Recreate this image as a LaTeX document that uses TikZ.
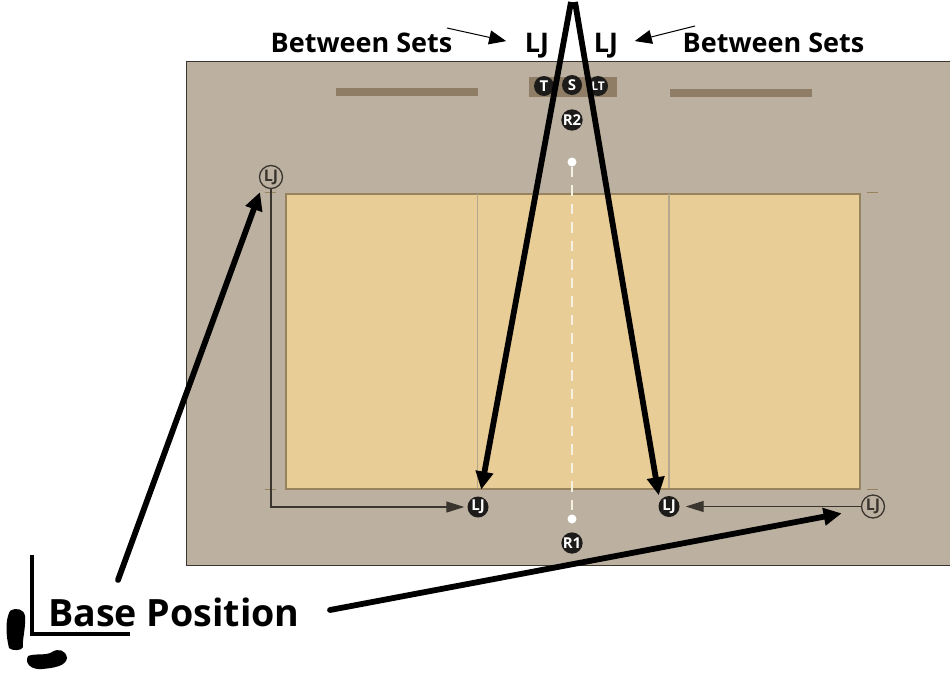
\documentclass[tikz,border=0pt]{standalone}
\usepackage{fontspec}
\setmainfont{Open Sans}
\usepackage{tikz}
\usetikzlibrary{arrows.meta, positioning, calc}
\definecolor{floorgray}{HTML}{BCB1A0}
\definecolor{courtsand}{HTML}{E8CD96}
\definecolor{courtedge}{HTML}{98835F}
\definecolor{netline}{HTML}{B5A68C}
\definecolor{benchbrown}{HTML}{8F7D66}
\definecolor{playerblack}{HTML}{1E1C1A}
\definecolor{ringdark}{HTML}{3A352E}
\definecolor{dashpale}{HTML}{F6F0E2}

\begin{document}
\begin{tikzpicture}[
   x=1pt, y=-1pt,
   font=\bfseries,
   title/.style={font=\fontsize{27}{29}\selectfont\bfseries, inner sep=0pt, anchor=base},
   player/.style={circle, fill=playerblack, text=white, minimum size=20pt, inner sep=0pt,
                  font=\fontsize{15}{15}\selectfont\bfseries},
   base/.style={circle, draw=ringdark, line width=1.3pt, fill=floorgray,
                text=ringdark, minimum size=23pt, inner sep=0pt,
                font=\fontsize{16}{16}\selectfont\bfseries},
   thin arr/.style={-{Triangle[length=18pt, width=11pt]}, line width=1.2pt, ringdark},
   call arr/.style={-{Triangle[length=17pt, width=14pt]}, line width=1pt, black},
   big arr/.style={-{Triangle[length=18pt, width=17pt]}, line width=5.8pt, black},
   tick/.style={line width=0.7pt, courtedge}]
 \useasboundingbox (0,0) rectangle (950,672);
 \node[draw=ringdark, line width=1pt, fill=floorgray, minimum width=766pt, minimum height=504pt,
       inner sep=0pt, outer sep=0pt, anchor=north west] (floor) at (186,61) {};
 \node[draw=courtedge, line width=2pt, fill=courtsand, minimum width=574pt, minimum height=295pt,
       inner sep=0pt, outer sep=0pt, anchor=north west] (court) at (285.5,193.5) {};
 \node[fill=benchbrown, minimum width=142pt, minimum height=8pt, inner sep=0pt] (bench1) at (407,92) {};
 \node[fill=benchbrown, minimum width=142pt, minimum height=8pt, inner sep=0pt] (bench2) at (741,93) {};
 \node[fill=benchbrown, minimum width=88pt, minimum height=20pt, inner sep=0pt] (table) at (572.5,86.5) {};
 \coordinate (net1a) at (477.5,194);
 \coordinate (net1b) at (477.5,488);
 \coordinate (net2a) at (669,194);
 \coordinate (net2b) at (669,488);
 \draw[line width=1.6pt, netline] (net1a) -- (net1b);
 \draw[line width=1.6pt, netline] (net2a) -- (net2b);
 \draw[tick] (867,192) -- (878,192);
 \draw[tick] (867,489) -- (878,489);
 \draw[tick] (265,192) -- (276,192);
 \draw[tick] (265,489) -- (276,489);

 \node[circle, fill=white, minimum size=9pt, inner sep=0pt] (ref2) at (572,162) {};
 \node[circle, fill=white, minimum size=9pt, inner sep=0pt] (ref1) at (572,519) {};
 \draw[dashpale, line width=2.2pt, dash pattern=on 10.5pt off 8pt] (ref2) -- (ref1);

 \node[player] (t)  at (544,86) {T};
 \node[player] (s)  at (572,85) {S};
 \node[player, font=\fontsize{12}{12}\selectfont\bfseries] (lt) at (598,86) {LT};
 \node[player, minimum size=21pt] (r2) at (572,120) {R2};
 \node[player, minimum size=21pt] (r1) at (572,543) {R1};
 \node[player, minimum size=21pt] (lj1) at (478,507) {LJ};
 \node[player, minimum size=21pt] (lj2) at (669,506.5) {LJ};
 \node[base] (baseL) at (271,177) {LJ};
 \node[base] (baseR) at (873,506.5) {LJ};

 \draw[thin arr, shorten >=3pt] (baseL) |- (lj1);
 \draw[thin arr, shorten >=6pt] (baseR) -- (lj2);

 \node[title] (sets1) at (361.5,52) {Between Sets};
 \node[title] (sets2) at (773.5,52) {Between Sets};
 \node[title] (ljtop1) at (537,52) {LJ};
 \node[title] (ljtop2) at (606,52) {LJ};
 \node[font=\fontsize{37.6}{40}\selectfont\bfseries, inner sep=0pt, anchor=base west] (basepos) at (48,626) {Base Position};

 \coordinate (apex1) at (571,2);
 \coordinate (apex2) at (575,2);
 \coordinate (call1) at (447,28);
 \coordinate (call2) at (695,26);
 \coordinate (start1) at (118,580);
 \coordinate (start2) at (330,610);
 \draw[call arr, shorten >=19pt] (call1) -- (ljtop1.west);
 \draw[call arr, shorten >=17pt] (call2) -- (ljtop2.east);
 \draw[big arr, shorten >=7pt] (apex1) -- (lj1);
 \draw[big arr, shorten >=6pt] (apex2) -- (lj2.150);
 \draw[big arr, line cap=round, shorten >=7pt] (start1) -- (baseL.south west);
 \draw[big arr, line cap=round, shorten >=20pt] (start2) -- (baseR.195);

 \coordinate (corner1) at (32,555);
 \coordinate (corner2) at (32,634);
 \coordinate (corner3) at (130,634);
 \draw[black, line width=4.6pt] (corner1) -- (corner2) -- (corner3);
 \fill[black] (10,611) .. controls (16,607) and (24,609) .. (25,616)
    .. controls (26,628) and (22,640) .. (23,647) .. controls (22,651) and (12,651) .. (9,648)
    .. controls (6,636) and (5,620) .. (10,611) -- cycle;
 \fill[black] (28,656) .. controls (36,653) and (46,656) .. (52,652)
    .. controls (58,648) and (66,650) .. (67,658) .. controls (66,666) and (54,668) .. (42,669)
    .. controls (32,670) and (24,664) .. (28,656) -- cycle;
\end{tikzpicture}
\end{document}
